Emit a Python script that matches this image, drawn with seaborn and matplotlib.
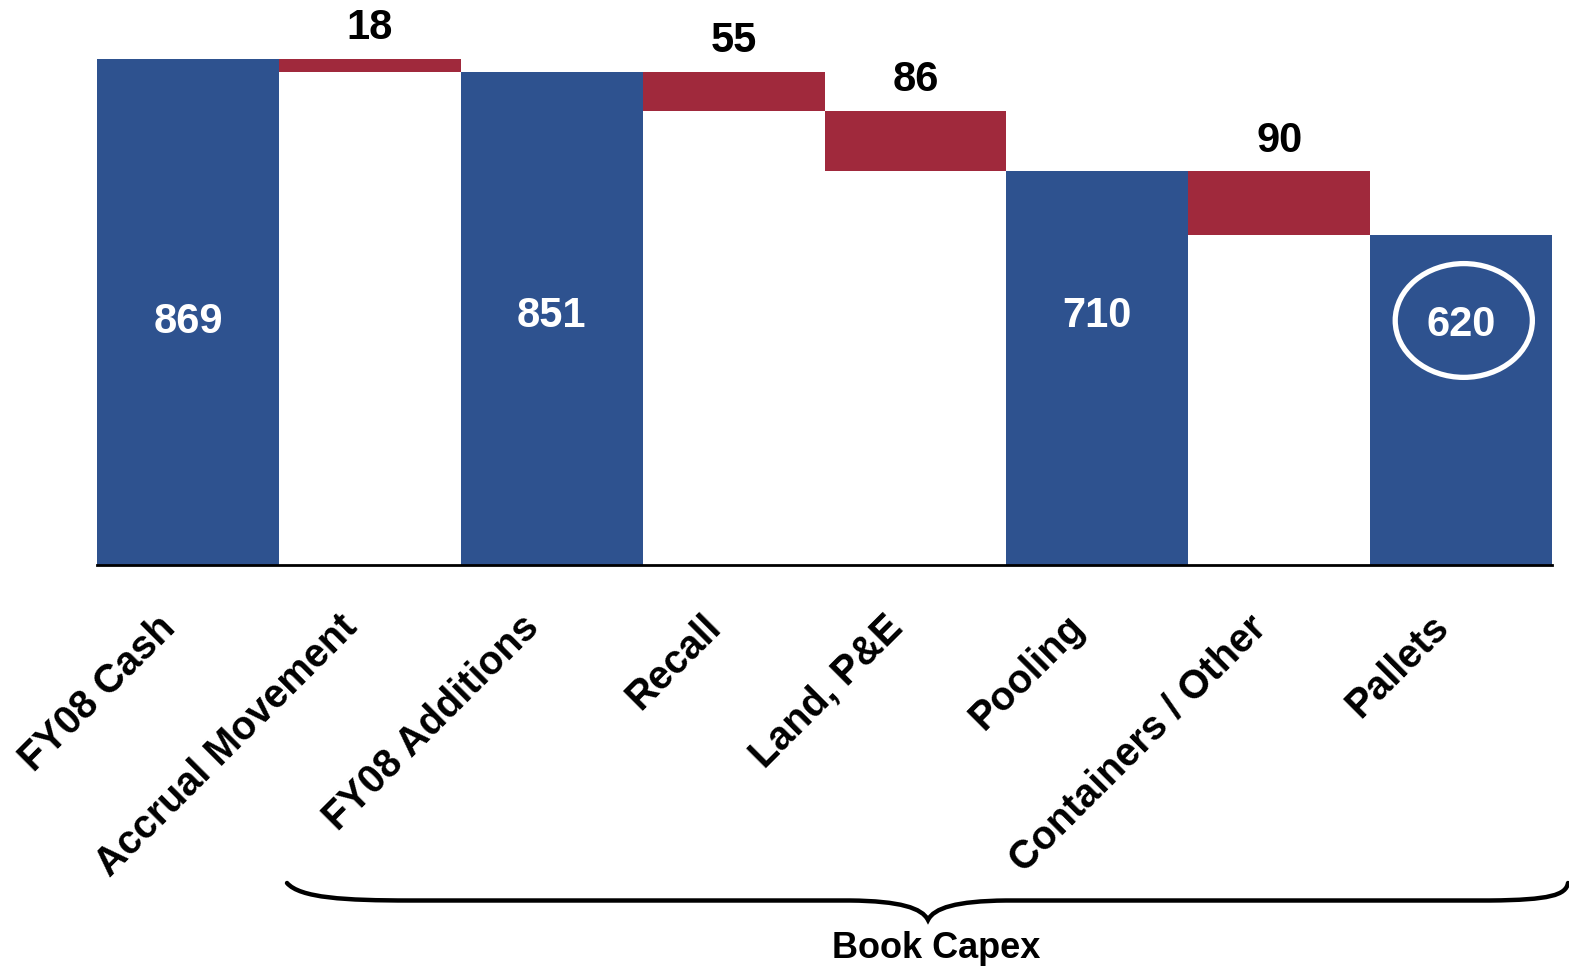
import numpy as np
import pandas as pd
import matplotlib
matplotlib.use("Agg")
import matplotlib.pyplot as plt
import matplotlib.transforms as mtransforms
from matplotlib.patches import Ellipse, PathPatch
from matplotlib.path import Path
import seaborn as sns

# ---------------- data ----------------
categories = ["FY08 Cash", "Accrual Movement", "FY08 Additions", "Recall",
              "Land, P&E", "Pooling", "Containers / Other", "Pallets"]
values = [869, -18, 851, -55, -86, 710, -90, 620]
kinds = ["total", "delta", "total", "delta", "delta", "total", "delta", "total"]
bracket_label = "Book Capex"

# ---------------- style ----------------
BLUE = "#2E528F"
RED = "#A0293C"
W, H = 1569, 967
total_label_y = [497, 505, 505, 492]   # label heights inside blue bars (data units)

sns.set_style("white")
plt.rcParams["font.family"] = ["Liberation Sans", "DejaVu Sans"]
plt.rcParams["text.color"] = "black"
plt.rcParams["xtick.color"] = "black"

# waterfall levels derived from the values
rows_delta, rows_total = [], []
level = 0
for c, v, k in zip(categories, values, kinds):
    if k == "total":
        level = v
        rows_total.append({"cat": c, "value": v})
    else:
        top = level
        base = level - abs(v)
        rows_delta.append({"cat": c, "top": top, "base": base, "value": abs(v)})
        level = base
df_total = pd.DataFrame(rows_total)
df_delta = pd.DataFrame(rows_delta)

fig = plt.figure(figsize=(W / 100, H / 100), dpi=100)
ax = fig.add_axes([97 / W, 1 - 565 / H, (1552 - 97) / W, 565 / H])

common = dict(order=categories, width=1.0, saturation=1, linewidth=0, ax=ax, errorbar=None)
sns.barplot(data=df_delta, x="cat", y="top", color=RED, **common)
sns.barplot(data=df_delta, x="cat", y="base", color="white", **common)
sns.barplot(data=df_total, x="cat", y="value", color=BLUE, **common)

ax.set_xlim(-0.5, len(categories) - 0.5)
ax.set_ylim(153, 952.5)
ax.set_xlabel("")
ax.set_ylabel("")
ax.set_yticks([])
for s in ["left", "right", "top"]:
    ax.spines[s].set_visible(False)
ax.spines["bottom"].set_color("black")
ax.spines["bottom"].set_linewidth(2)
ax.spines["bottom"].set_zorder(5)

# tick labels
ax.set_xticks(range(len(categories)))
ax.set_xticklabels(categories, rotation=45, ha="right", fontsize=28.5,
                   fontweight="bold", color="black")
ax.tick_params(axis="x", length=0, pad=31)
shift = mtransforms.ScaledTranslation(-5 / 100, 0, fig.dpi_scale_trans)
for lab in ax.get_xticklabels():
    lab.set_transform(lab.get_transform() + shift)

# value labels
ti = 0
for i, (c, v, k) in enumerate(zip(categories, values, kinds)):
    if k == "total":
        ax.text(i, total_label_y[ti], f"{v}", ha="center", va="center",
                color="white", fontsize=30, fontweight="bold", zorder=6)
        ti += 1
for _, r in df_delta.iterrows():
    i = categories.index(r["cat"])
    ax.annotate(f"{int(r['value'])}", xy=(i, r["top"]), xytext=(0, 22),
                textcoords="offset points", ha="center", va="center",
                fontsize=30, fontweight="bold", color="black")

# highlight ellipse around last total
ax.add_patch(Ellipse((7.015, 499), 0.754, 161, fill=False, edgecolor="white",
                     linewidth=3.8, zorder=6))

# curly bracket under the labels
def fp(x, y):
    return (x / W, 1 - y / H)

verts = [fp(287, 883), fp(300, 898), fp(345, 900.5), fp(410, 900.5),
         fp(850, 900.5), fp(900, 901), fp(922, 908), fp(928, 920),
         fp(934, 908), fp(956, 901), fp(1006, 900.5),
         fp(1490, 900.5), fp(1550, 900), fp(1566, 895), fp(1568, 883)]
codes = [Path.MOVETO, Path.CURVE4, Path.CURVE4, Path.CURVE4,
         Path.LINETO, Path.CURVE4, Path.CURVE4, Path.CURVE4,
         Path.CURVE4, Path.CURVE4, Path.CURVE4,
         Path.LINETO, Path.CURVE4, Path.CURVE4, Path.CURVE4]
brace = PathPatch(Path(verts, codes), transform=fig.transFigure, fill=False,
                  edgecolor="black", linewidth=3.2, capstyle="round")
fig.patches.append(brace)

fig.text(936 / W, 1 - 948 / H, bracket_label, ha="center", va="center",
         fontsize=26, fontweight="bold", color="black")

fig.savefig("out.png", dpi=100, facecolor="white")
